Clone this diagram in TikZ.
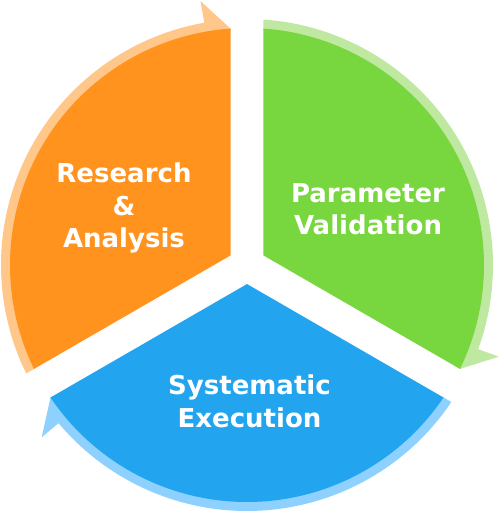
\documentclass[tikz,border=0pt]{standalone}
\usepackage{fontspec}
\setmainfont{DejaVu Sans}
\definecolor{orangeM}{HTML}{FF931E}
\definecolor{orangeL}{HTML}{FFC789}
\definecolor{greenM}{HTML}{78D63E}
\definecolor{greenL}{HTML}{BFE8A0}
\definecolor{blueM}{HTML}{22A5EE}
\definecolor{blueL}{HTML}{8ED1FF}
\begin{document}
\begin{tikzpicture}[x=1pt,y=1pt,
  lbl/.style={text=white,font=\bfseries\fontsize{26}{32}\selectfont,anchor=base,inner sep=0pt}]
\useasboundingbox (-247,-247) rectangle (252,265);
% arrow rings
\fill[orangeL] (206:235) -- (206.15:246) arc[start angle=206.15,end angle=100,radius=246]
  -- (100:268) -- (93.99:237) -- (94:235) arc[start angle=94,end angle=206,radius=235] -- cycle;
\fill[greenL] (86:235) -- (86.15:246) arc[start angle=86.15,end angle=-20,radius=246]
  -- (-20:268) -- (-26.01:237) -- (-26:235) arc[start angle=-26,end angle=86,radius=235] -- cycle;
\fill[blueL] (326:235) -- (326.15:246) arc[start angle=326.15,end angle=220,radius=246]
  -- (220:268) -- (213.99:237) -- (214:235) arc[start angle=214,end angle=326,radius=235] -- cycle;
% sectors
\fill[orangeM] (150:19.05) -- (93.99:237) arc[start angle=93.99,end angle=206.01,radius=237] -- cycle;
\fill[greenM] (30:19.05) -- (-26.01:237) arc[start angle=-26.01,end angle=86.01,radius=237] -- cycle;
\fill[blueM] (270:19.05) -- (213.99:237) arc[start angle=213.99,end angle=326.01,radius=237] -- cycle;
% labels
\node[lbl] (r1) at (-123,82.5) {Research};
\node[lbl] (r2) at (-123,50) {\&};
\node[lbl] (r3) at (-123,17.5) {Analysis};
\node[lbl] (p1) at (121,63) {Parameter};
\node[lbl] (p2) at (121,30.5) {Validation};
\node[lbl] (s1) at (2.5,-129.5) {Systematic};
\node[lbl] (s2) at (2.5,-162) {Execution};
\end{tikzpicture}
\end{document}
